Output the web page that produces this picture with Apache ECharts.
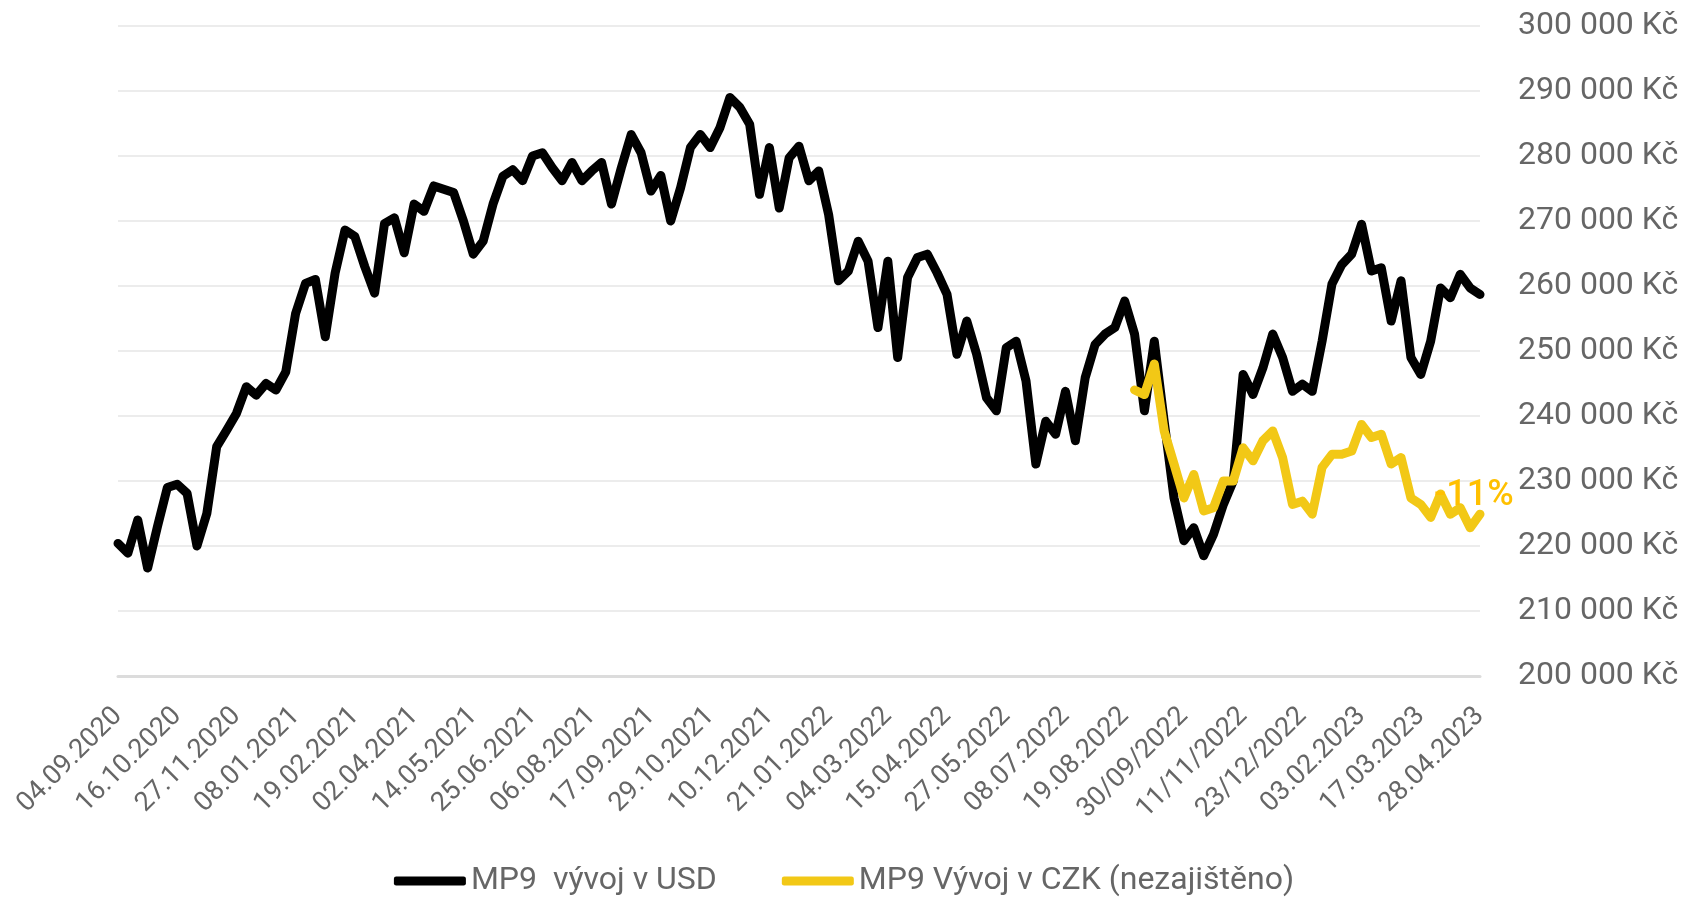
<!DOCTYPE html>
<html>
<head>
<meta charset="utf-8">
<script src="https://cdn.jsdelivr.net/npm/echarts@6/dist/echarts.min.js"></script>
<style>
html,body{margin:0;padding:0;background:#ffffff;}
#c{width:1688px;height:897px;}
</style>
</head>
<body>
<div id="c"></div>
<script>
// Tick labels shown every 6th weekly point (as written in the original)
const tickLabels = [
  '04.09.2020','16.10.2020','27.11.2020','08.01.2021','19.02.2021','02.04.2021',
  '14.05.2021','25.06.2021','06.08.2021','17.09.2021','29.10.2021','10.12.2021',
  '21.01.2022','04.03.2022','15.04.2022','27.05.2022','08.07.2022','19.08.2022',
  '30/09/2022','11/11/2022','23/12/2022','03.02.2023','17.03.2023','28.04.2023'
];
const labelEvery = 6;

// MP9 vývoj v USD (Kč), weekly points
const usd = [
  220400,218900,224000,216600,223000,229000,229500,228100,220000,225000,
  235300,237800,240400,244500,243200,245000,244000,246800,255800,260400,
  261000,252200,262000,268600,267600,263000,258900,269600,270500,265100,
  272600,271500,275400,274900,274400,270000,264900,266900,272600,276900,
  277900,276200,280000,280500,278200,276200,279000,276200,277700,279000,
  272600,278200,283300,280500,274600,277000,270000,275100,281300,283300,
  281300,284400,289000,287500,284900,274100,281300,272000,279700,281500,
  276200,277700,271000,260800,262300,266900,263800,253600,263800,249000,
  261300,264400,264900,262000,258700,249500,254600,249500,242800,240800,
  250500,251500,245400,232600,239200,237200,243800,236200,245900,251000,
  252600,253600,257700,252600,240800,251500,239200,227400,220800,222800,
  218500,221800,226400,230000,246400,243300,247400,252600,249000,243800,
  244900,243800,251500,260300,263300,264900,269500,262300,262800,254600,
  260800,249000,246400,251500,259700,258200,261800,259700,258700
];

// MP9 Vývoj v CZK (nezajištěno), starts at weekly point czkStart
const czkStart = 103;
const czk = [
  244000,243300,248000,237700,232600,227400,231000,225400,225900,230000,
  230000,235100,233100,236200,237700,233600,226400,226900,224900,232100,
  234100,234100,234600,238700,236700,237200,232600,233600,227400,226400,
  224400,228000,224900,225900,222800,224900
];
const czkNote = '-11%';

const seriesNames = ['MP9  vývoj v USD', 'MP9 Vývoj v CZK (nezajištěno)'];

// category list: weekly Fridays starting 04.09.2020
function fmt(d){
  const dd = String(d.getUTCDate()).padStart(2,'0');
  const mm = String(d.getUTCMonth()+1).padStart(2,'0');
  return dd + '.' + mm + '.' + d.getUTCFullYear();
}
const start = Date.UTC(2020, 8, 4);
const categories = usd.map((_, i) => i % labelEvery === 0 ? tickLabels[i / labelEvery] : fmt(new Date(start + i * 7 * 86400000)));
const czkData = usd.map((_, i) => (i >= czkStart && i - czkStart < czk.length) ? czk[i - czkStart] : null);
const lastIdx = czkStart + czk.length - 1;

const chart = echarts.init(document.getElementById('c'), null, {renderer:'canvas'});
chart.setOption({
  animation: false,
  backgroundColor: '#ffffff',
  textStyle: {fontFamily: 'Roboto'},
  grid: {left: 118, right: 208, top: 26, bottom: 221, containLabel: false},
  legend: {
    data: seriesNames,
    left: 'center',
    top: 860,
    icon: 'roundRect',
    itemWidth: 72,
    itemHeight: 9,
    itemGap: 65,
    textStyle: {fontSize: 32, color: '#666666', fontFamily: 'Roboto'}
  },
  xAxis: {
    type: 'category',
    boundaryGap: false,
    data: categories,
    axisLine: {lineStyle: {color: '#dcdcdc', width: 3}},
    axisTick: {show: false},
    splitLine: {show: false},
    axisLabel: {
      interval: labelEvery - 1,
      rotate: 45,
      margin: 36,
      fontSize: 27,
      color: '#666666',
      fontFamily: 'Roboto'
    }
  },
  yAxis: {
    type: 'value',
    position: 'right',
    min: 200000,
    max: 300000,
    interval: 10000,
    axisLine: {show: false},
    axisTick: {show: false},
    splitLine: {lineStyle: {color: '#ececec', width: 2}},
    axisLabel: {
      margin: 38,
      fontSize: 32,
      color: '#666666',
      fontFamily: 'Roboto',
      formatter: v => (v / 1000) + ' 000 Kč'
    }
  },
  series: [
    {
      name: seriesNames[0],
      type: 'line',
      data: usd,
      symbol: 'none',
      color: '#000000',
      lineStyle: {width: 9, color: '#000000', join: 'round', cap: 'round'},
      z: 2
    },
    {
      name: seriesNames[1],
      type: 'line',
      data: czkData,
      symbol: 'none',
      color: '#F2C816',
      lineStyle: {width: 9, color: '#F2C816', join: 'round', cap: 'round'},
      z: 3
    }
  ]
});

// "-11%" annotation anchored to the last CZK point through the chart's own scales
const p = chart.convertToPixel({xAxisIndex: 0, yAxisIndex: 0}, [lastIdx, czk[czk.length - 1]]);
chart.setOption({
  graphic: [{
    type: 'text',
    z: 100,
    zlevel: 1,
    left: Math.round(p[0] - 46),
    top: Math.round(p[1] - 36),
    silent: true,
    style: {
      text: czkNote,
      fill: '#FFC000',
      fontSize: 36,
      fontWeight: 500,
      fontFamily: 'Roboto'
    }
  }]
});
</script>
</body>
</html>
